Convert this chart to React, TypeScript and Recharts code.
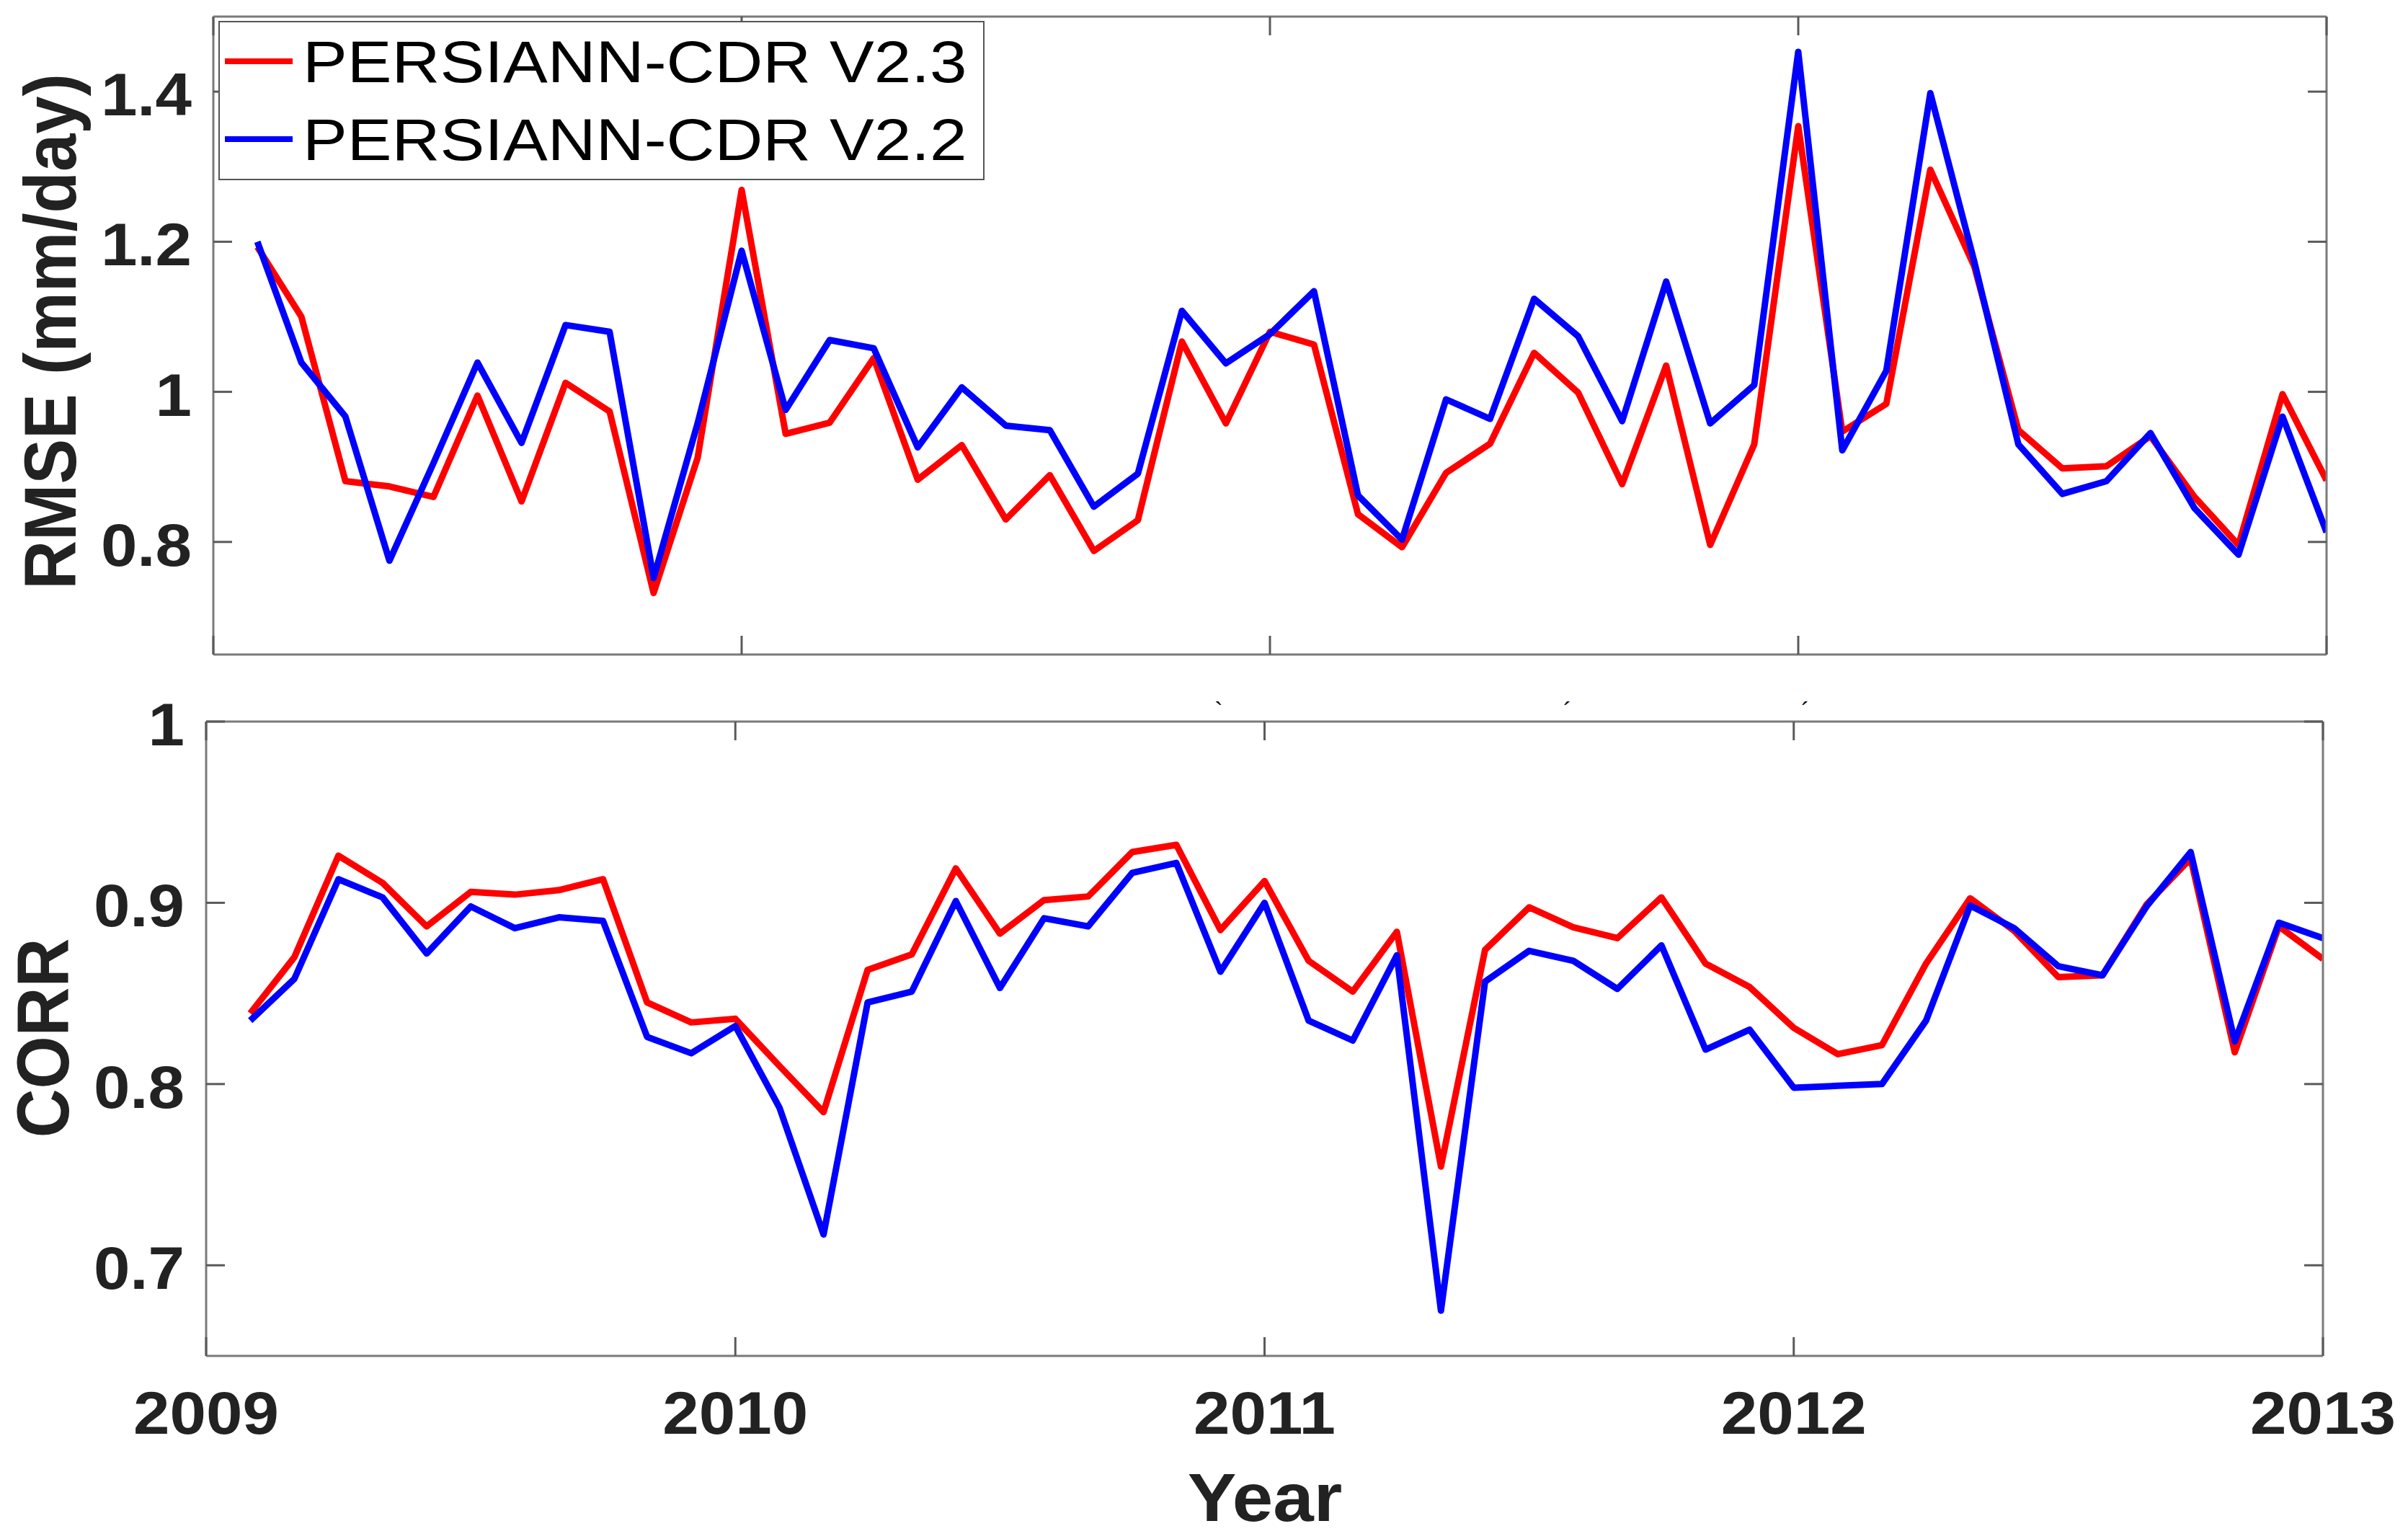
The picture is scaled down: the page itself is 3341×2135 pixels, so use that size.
import { Legend, Line, LineChart, XAxis, YAxis } from "recharts"

const W = 3341
const H = 2135
const FONT = "'Liberation Sans', Arial, Helvetica, sans-serif"
const AXIS_COLOR = "#7a7a7a"
const TICK_COLOR = "#5a5a5a"
const TICK_LEN = 26
const RED = "#ff0000"
const BLUE = "#0000ff"

// monthly samples, Feb 2009 .. Jan 2013 (decimal years)
const months = Array.from({ length: 48 }, (_, i) => 2009 + (i + 1) / 12)
const yearTicks = [2009, 2010, 2011, 2012, 2013]
const rmseTicks = [0.8, 1, 1.2, 1.4]
const corrTicks = [0.7, 0.8, 0.9, 1]

const rmseV23 = [
  1.193, 1.1, 0.881, 0.874, 0.86, 0.995, 0.854, 1.012, 0.974, 0.732, 0.912, 1.269,
  0.944, 0.959, 1.045, 0.883, 0.929, 0.83, 0.889, 0.788, 0.829, 1.067, 0.958, 1.08,
  1.063, 0.837, 0.793, 0.892, 0.931, 1.052, 0.999, 0.877, 1.035, 0.796, 0.93, 1.354,
  0.947, 0.984, 1.296, 1.167, 0.949, 0.898, 0.901, 0.941, 0.86, 0.796, 0.997, 0.882,
]
const rmseV22 = [
  1.2, 1.039, 0.967, 0.775, 0.905, 1.039, 0.932, 1.089, 1.08, 0.752, 0.958, 1.188,
  0.976, 1.069, 1.058, 0.926, 1.006, 0.955, 0.949, 0.847, 0.891, 1.108, 1.038, 1.077,
  1.134, 0.862, 0.803, 0.99, 0.964, 1.124, 1.074, 0.961, 1.147, 0.958, 1.009, 1.453,
  0.922, 1.028, 1.398, 1.173, 0.93, 0.864, 0.881, 0.945, 0.845, 0.783, 0.967, 0.813,
]
const corrV23 = [
  0.839, 0.87, 0.926, 0.911, 0.887, 0.906, 0.9045, 0.907, 0.913, 0.845, 0.834, 0.836,
  0.81, 0.7845, 0.863, 0.8715, 0.919, 0.883, 0.9015, 0.9035, 0.928, 0.932, 0.885, 0.912,
  0.868, 0.851, 0.884, 0.7545, 0.874, 0.8975, 0.8865, 0.8805, 0.903, 0.8665, 0.8535, 0.831,
  0.8165, 0.8215, 0.8665, 0.9025, 0.8845, 0.859, 0.86, 0.899, 0.9245, 0.8175, 0.887, 0.869,
]
const corrV22 = [
  0.835, 0.858, 0.913, 0.903, 0.872, 0.898, 0.886, 0.892, 0.89, 0.826, 0.817, 0.832,
  0.787, 0.717, 0.845, 0.851, 0.901, 0.853, 0.8915, 0.887, 0.9165, 0.922, 0.862, 0.9,
  0.835, 0.824, 0.871, 0.675, 0.8565, 0.8735, 0.868, 0.8525, 0.8765, 0.819, 0.83, 0.798,
  0.799, 0.8, 0.835, 0.8985, 0.886, 0.865, 0.86, 0.898, 0.928, 0.8235, 0.889, 0.8805,
]

const seriesNames = ["PERSIANN-CDR V2.3", "PERSIANN-CDR V2.2"]
const seriesColors = [RED, BLUE]

const rmseData = months.map((t, i) => ({ t, v23: rmseV23[i], v22: rmseV22[i] }))
const corrData = months.map((t, i) => ({ t, v23: corrV23[i], v22: corrV22[i] }))

const axisLine = { stroke: AXIS_COLOR, strokeWidth: 3 }

const BottomTick = (props: any) => {
  const { x, y, payload, showLabel } = props
  return (
    <g>
      <line x1={x} y1={y} x2={x} y2={y - TICK_LEN} stroke={TICK_COLOR} strokeWidth={3} />
      {showLabel && (
        <text
          transform={`translate(${x},${y + 108}) scale(1.08,1)`}
          textAnchor="middle"
          fontFamily={FONT}
          fontWeight="bold"
          fontSize={84}
          fill="#222"
        >
          {payload.value}
        </text>
      )}
    </g>
  )
}

const TopTick = (props: any) => {
  const { x, y } = props
  return <line x1={x} y1={y} x2={x} y2={y + TICK_LEN} stroke={TICK_COLOR} strokeWidth={3} />
}

const LeftTick = (props: any) => {
  const { x, y, payload } = props
  return (
    <g>
      <line x1={x} y1={y} x2={x + TICK_LEN} y2={y} stroke={TICK_COLOR} strokeWidth={3} />
      <text
        transform={`translate(${x - 30},${y + 33}) scale(1.08,1)`}
        textAnchor="end"
        fontFamily={FONT}
        fontWeight="bold"
        fontSize={84}
        fill="#222"
      >
        {payload.value}
      </text>
    </g>
  )
}

const RightTick = (props: any) => {
  const { x, y } = props
  return <line x1={x} y1={y} x2={x - TICK_LEN} y2={y} stroke={TICK_COLOR} strokeWidth={3} />
}

const LegendBox = () => (
  <svg width={1063} height={221} style={{ display: "block" }}>
    <rect x={1} y={1} width={1061} height={219} fill="#fff" stroke="#555" strokeWidth={2} />
    {seriesNames.map((name, i) => {
      const cy = 56 + i * 108
      return (
        <g key={name}>
          <line x1={9} y1={cy} x2={103} y2={cy} stroke={seriesColors[i]} strokeWidth={8} />
          <text
            transform={`translate(117,${cy + 29}) scale(1.13,1)`}
            fontFamily={FONT}
            fontSize={82}
            fill="#000"
          >
            {name}
          </text>
        </g>
      )
    })}
  </svg>
)

type PanelProps = {
  data: { t: number; v23: number; v22: number }[]
  height: number
  margin: { top: number; right: number; bottom: number; left: number }
  yWidth: number
  yDomain: [number, number]
  yTicks: number[]
  showXLabels: boolean
  withLegend: boolean
}

const Panel = ({ data, height, margin, yWidth, yDomain, yTicks, showXLabels, withLegend }: PanelProps) => (
  <LineChart width={W} height={height} data={data} margin={margin}>
    <XAxis
      dataKey="t"
      type="number"
      domain={[2009, 2013]}
      ticks={yearTicks}
      interval={0}
      allowDataOverflow
      height={1}
      tickSize={0}
      tickMargin={0}
      tickLine={false}
      axisLine={axisLine}
      tick={(p: any) => <BottomTick {...p} showLabel={showXLabels} />}
    />
    <XAxis
      xAxisId="top"
      orientation="top"
      dataKey="t"
      type="number"
      domain={[2009, 2013]}
      ticks={yearTicks}
      interval={0}
      allowDataOverflow
      height={1}
      tickSize={0}
      tickMargin={0}
      tickLine={false}
      axisLine={axisLine}
      tick={(p: any) => <TopTick {...p} />}
    />
    <YAxis
      type="number"
      domain={yDomain}
      ticks={yTicks}
      interval={0}
      allowDataOverflow
      width={yWidth}
      tickSize={0}
      tickMargin={0}
      tickLine={false}
      axisLine={axisLine}
      tick={(p: any) => <LeftTick {...p} />}
    />
    <YAxis
      yAxisId="right"
      orientation="right"
      type="number"
      domain={yDomain}
      ticks={yTicks}
      interval={0}
      allowDataOverflow
      width={1}
      tickSize={0}
      tickMargin={0}
      tickLine={false}
      axisLine={axisLine}
      tick={(p: any) => <RightTick {...p} />}
    />
    {withLegend && (
      <Legend
        layout="horizontal"
        verticalAlign="middle"
        align="center"
        wrapperStyle={{ left: 303, top: 29, width: 1063, height: 221 }}
        content={() => <LegendBox />}
      />
    )}
    <Line
      type="linear"
      dataKey="v23"
      name={seriesNames[0]}
      stroke={RED}
      strokeWidth={9}
      strokeLinejoin="round"
      dot={false}
      isAnimationActive={false}
    />
    <Line
      type="linear"
      dataKey="v22"
      name={seriesNames[1]}
      stroke={BLUE}
      strokeWidth={9}
      strokeLinejoin="round"
      dot={false}
      isAnimationActive={false}
    />
  </LineChart>
)

const App = () => {
  return (
    <div style={{ position: "absolute", left: 0, top: 0, width: W, height: H, background: "#fff" }}>
      <div style={{ position: "absolute", left: 0, top: 0 }}>
        <Panel
          data={rmseData}
          height={950}
          margin={{ top: 22, right: 112, bottom: 41, left: 0 }}
          yWidth={296}
          yDomain={[0.65, 1.5]}
          yTicks={rmseTicks}
          showXLabels={false}
          withLegend
        />
      </div>
      <div style={{ position: "absolute", left: 0, top: 950 }}>
        <Panel
          data={corrData}
          height={1185}
          margin={{ top: 50, right: 117, bottom: 253, left: 0 }}
          yWidth={286}
          yDomain={[0.65, 1]}
          yTicks={corrTicks}
          showXLabels
          withLegend={false}
        />
      </div>
      <svg
        width={W}
        height={H}
        style={{ position: "absolute", left: 0, top: 0, pointerEvents: "none" }}
      >
        <text
          transform="translate(105,460) rotate(-90) scale(1,1.08)"
          textAnchor="middle"
          fontFamily={FONT}
          fontWeight="bold"
          fontSize={94}
          fill="#222"
        >
          RMSE (mm/day)
        </text>
        <text
          transform="translate(95,1440) rotate(-90) scale(1,1.08)"
          textAnchor="middle"
          fontFamily={FONT}
          fontWeight="bold"
          fontSize={94}
          fill="#222"
        >
          CORR
        </text>
        <text
          transform="translate(1755,2110) scale(1.08,1)"
          textAnchor="middle"
          fontFamily={FONT}
          fontWeight="bold"
          fontSize={94}
          fill="#222"
        >
          Year
        </text>
        <text x={1691} y={998} textAnchor="middle" fontFamily={FONT} fontSize={34} fill="#000">`</text>
        <text x={2175} y={998} textAnchor="middle" fontFamily={FONT} fontSize={34} fill="#000">´</text>
        <text x={2505} y={998} textAnchor="middle" fontFamily={FONT} fontSize={34} fill="#000">´</text>
      </svg>
    </div>
  )
}

export default App
